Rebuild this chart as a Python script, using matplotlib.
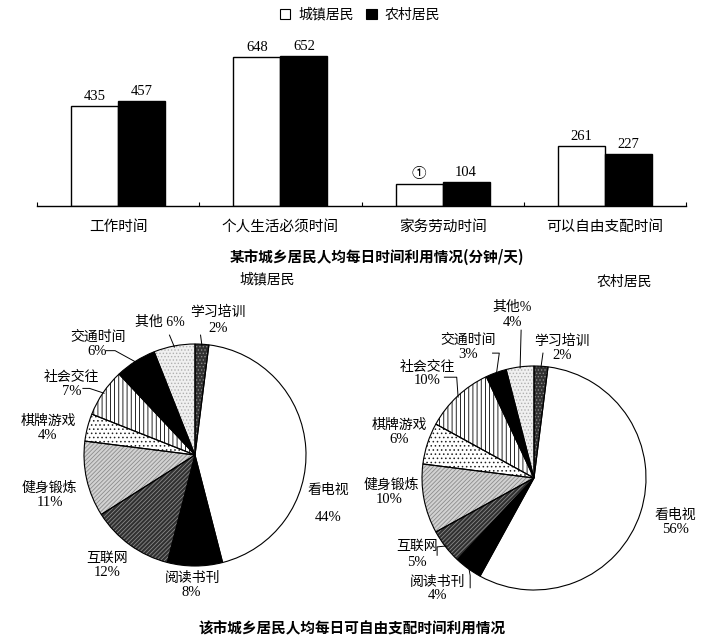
import numpy as np
import matplotlib
matplotlib.use("Agg")
import matplotlib.pyplot as plt
from matplotlib.patches import Patch

plt.rcParams['font.family'] = ['Liberation Serif', 'Noto Sans CJK SC', 'DejaVu Sans']
plt.rcParams['hatch.linewidth'] = 0.6

# ---------------- data ----------------
bar_categories = ['工作时间', '个人生活必须时间', '家务劳动时间', '可以自由支配时间']
urban_minutes = [435, 648, 96, 261]          # 96 = value of ① (1440 - others)
rural_minutes = [457, 652, 104, 227]
urban_value_labels = ['435', '648', '①', '261']
rural_value_labels = ['457', '652', '104', '227']
series_names = ['城镇居民', '农村居民']
bar_title = '某市城乡居民人均每日时间利用情况(分钟/天)'

pie_items = ['学习培训', '看电视', '阅读书刊', '互联网', '健身锻炼',
             '棋牌游戏', '社会交往', '交通时间', '其他']
urban_share = [2, 44, 8, 12, 11, 4, 7, 6, 6]
rural_share = [2, 56, 4, 5, 10, 6, 10, 3, 4]
urban_item_text = ['学习培训', '看电视', '阅读书刊', '互联网', '健身锻炼',
                   '棋牌游戏', '社会交往', '交通时间', '其他 6%']
rural_item_text = ['学习培训', '看电视', '阅读书刊', '互联网', '健身锻炼',
                   '棋牌游戏', '社会交往', '交通时间', '其他%']
urban_pct_text = ['2%', '44%', '8%', '12%', '11%', '4%', '7%', '6%', '']
rural_pct_text = ['2%', '56%', '4%', '5%', '10%', '6%', '10%', '3%', '4%']
pie_titles = ['城镇居民', '农村居民']
pie_title = '该市城乡居民人均每日可自由支配时间利用情况'

# ---------------- styles ----------------
# (facecolor, hatch, hatchcolor) per pie item
slice_styles = [
    ('#303030', '.....', '#8a8a8a'),     # 学习培训
    ('white', None, 'white'),            # 看电视
    ('black', None, 'black'),            # 阅读书刊
    ('#303030', '////////', '#8a8a8a'),  # 互联网
    ('#d2d2d2', '////////', '#8c8c8c'),  # 健身锻炼
    ('white', '....', '#222222'),        # 棋牌游戏
    ('white', '||||', 'black'),          # 社会交往
    ('black', None, 'black'),            # 交通时间
    ('#f0f0f0', '.....', '#b0b0b0'),     # 其他
]

W, H = 728, 638
fig = plt.figure(figsize=(W / 100, H / 100), dpi=100)

def frac_box(left, top, width, height):
    return [left / W, 1 - (top + height) / H, width / W, height / H]

# ---------------- bar chart ----------------
axb = fig.add_axes(frac_box(37, 30, 649, 176))
x = np.arange(len(bar_categories))
bw = 0.29
b1 = axb.bar(x - bw / 2, urban_minutes, bw, facecolor='white', edgecolor='black', linewidth=1.0)
b2 = axb.bar(x + bw / 2, rural_minutes, bw, facecolor='black', edgecolor='black', linewidth=1.0)
for rect, lab in zip(b1, urban_value_labels):
    axb.annotate(lab, (rect.get_x() + rect.get_width() / 2, rect.get_height()),
                 xytext=(0, 2), textcoords='offset points', ha='center', va='bottom',
                 fontsize=10.5)
for rect, lab in zip(b2, rural_value_labels):
    axb.annotate(lab, (rect.get_x() + rect.get_width() / 2, rect.get_height()),
                 xytext=(0, 2), textcoords='offset points', ha='center', va='bottom',
                 fontsize=10.5)
axb.set_xlim(-0.5, len(bar_categories) - 0.5)
axb.set_ylim(0, 765)
for s in ['top', 'right', 'left']:
    axb.spines[s].set_visible(False)
axb.spines['bottom'].set_linewidth(1.0)
axb.set_yticks([])
axb.set_xticks(x)
axb.set_xticklabels(bar_categories, fontsize=10.5)
axb.tick_params(axis='x', which='major', length=0, pad=10)
axb.set_xticks(np.arange(len(bar_categories) + 1) - 0.5, minor=True)
axb.tick_params(axis='x', which='minor', length=3, direction='in', width=0.8)

handles = [Patch(facecolor='white', edgecolor='black', linewidth=0.8),
           Patch(facecolor='black', edgecolor='black', linewidth=0.8)]
fig.legend(handles, series_names, ncol=2, loc='center',
           bbox_to_anchor=(360 / W, 1 - 15 / H), frameon=False, fontsize=10,
           handlelength=0.75, handleheight=0.75, handletextpad=0.6,
           columnspacing=0.9, borderpad=0)

fig.text(377 / W, 1 - 257 / H, bar_title, ha='center', va='center',
         fontsize=10.5, fontweight='bold', family=['Noto Sans CJK SC', 'DejaVu Sans'])

# ---------------- pies ----------------
def draw_pie(box, shares, item_text, pct_text, title, title_xy, layout, leaders):
    ax = fig.add_axes(box)
    faces = [s[0] for s in slice_styles]
    wedges, _ = ax.pie(shares, startangle=90, counterclock=False, colors=faces,
                       radius=1.0, wedgeprops=dict(linewidth=0))
    for w, (fc, hatch, hc) in zip(wedges, slice_styles):
        if hatch:
            w.set_hatch(hatch)
            w.set_edgecolor(hc)
    ax.pie(shares, startangle=90, counterclock=False, radius=1.0,
           wedgeprops=dict(fill=False, edgecolor='black', linewidth=0.8))
    ax.set_xlim(-1, 1)
    ax.set_ylim(-1, 1)
    ax.set_aspect('equal')
    ax.axis('off')
    for i, (name, pct) in enumerate(zip(item_text, pct_text)):
        (nx, ny), (px, py) = layout[i]
        ax.text(nx, ny, name, ha='center', va='center', fontsize=10, clip_on=False)
        if pct:
            ax.text(px, py, pct, ha='center', va='center', fontsize=10.5, clip_on=False)
    # leader lines from label anchor to wedge edge
    for i, pts in leaders.items():
        w = wedges[i]
        mid = np.deg2rad((w.theta1 + w.theta2) / 2)
        end = (0.99 * np.cos(mid), 0.99 * np.sin(mid))
        xs = [p[0] for p in pts] + [end[0]]
        ys = [p[1] for p in pts] + [end[1]]
        ax.plot(xs, ys, color='black', linewidth=0.7, clip_on=False)
    ax.text(title_xy[0], title_xy[1], title, ha='center', va='center',
            fontsize=10, clip_on=False)
    return ax

urban_layout = [
    ((0.21, 1.29), (0.21, 1.14)),
    ((1.20, -0.32), (1.20, -0.56)),
    ((-0.02, -1.11), (-0.03, -1.24)),
    ((-0.79, -0.93), (-0.79, -1.06)),
    ((-1.31, -0.30), (-1.31, -0.43)),
    ((-1.32, 0.30), (-1.33, 0.18)),
    ((-1.11, 0.70), (-1.11, 0.57)),
    ((-0.87, 1.06), (-0.88, 0.93)),
    ((-0.32, 1.20), (0, 0)),
]
urban_leaders = {
    0: [(0.05, 1.08)],
    8: [(-0.23, 1.08)],
    7: [(-0.80, 0.94), (-0.72, 0.94)],
    6: [(-1.01, 0.60), (-0.95, 0.60)],
}
rural_layout = [
    ((0.25, 1.22), (0.25, 1.09)),
    ((1.26, -0.33), (1.26, -0.46)),
    ((-0.86, -0.93), (-0.86, -1.045)),
    ((-1.045, -0.615), (-1.045, -0.75)),
    ((-1.27, -0.06), (-1.29, -0.195)),
    ((-1.20, 0.47), (-1.20, 0.34)),
    ((-0.955, 0.99), (-0.955, 0.875)),
    ((-0.59, 1.23), (-0.59, 1.10)),
    ((-0.195, 1.52), (-0.195, 1.385)),
]
rural_leaders = {
    8: [(-0.115, 1.32)],
    0: [(0.08, 1.115)],
    7: [(-0.37, 1.115), (-0.31, 1.115)],
    6: [(-0.80, 0.90), (-0.69, 0.90)],
    3: [(-0.865, -0.69), (-0.865, -0.615)],
    2: [(-0.57, -0.98), (-0.57, -0.87)],
}

draw_pie(frac_box(84, 344, 222, 222), urban_share, urban_item_text, urban_pct_text,
         pie_titles[0], (0.65, 1.58), urban_layout, urban_leaders)
draw_pie(frac_box(422, 366, 224, 224), rural_share, rural_item_text, rural_pct_text,
         pie_titles[1], (0.81, 1.75), rural_layout, rural_leaders)

fig.text(352 / W, 1 - 628 / H, pie_title, ha='center', va='center',
         fontsize=10.5, fontweight='bold', family=['Noto Sans CJK SC', 'DejaVu Sans'])

fig.savefig('out.png', dpi=100, facecolor='white')
